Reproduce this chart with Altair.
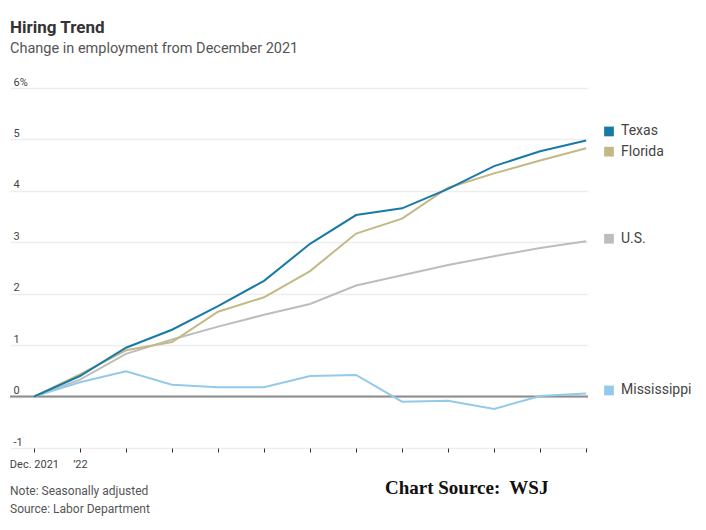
import json
import altair as alt
import pandas as pd

# ---- data ----
months = list(range(13))  # Dec 2021 .. Dec 2022
tick_labels = ["Dec. 2021", "\u201922", "", "", "", "", "", "", "", "", "", "", ""]
texas = [0, 0.40, 0.95, 1.30, 1.76, 2.25, 2.97, 3.53, 3.66, 4.04, 4.48, 4.77, 4.98]
florida = [0, 0.43, 0.90, 1.06, 1.65, 1.93, 2.44, 3.17, 3.46, 4.06, 4.34, 4.59, 4.83]
us = [0, 0.33, 0.83, 1.11, 1.36, 1.59, 1.80, 2.16, 2.36, 2.56, 2.73, 2.89, 3.02]
mississippi = [0, 0.28, 0.49, 0.23, 0.18, 0.18, 0.40, 0.42, -0.10, -0.08, -0.24, 0.01, 0.06]

series_names = ["Texas", "Florida", "U.S.", "Mississippi"]
series_values = [texas, florida, us, mississippi]
series_colors = ["#1a7aa6", "#c2b985", "#bdbdbd", "#94c9ea"]
label_nudge = [-9, 3.5, -2.5, -3]  # pixel nudges for end labels

y_ticks = [-1, 0, 1, 2, 3, 4, 5, 6]

rows = []
draw_order = ["U.S.", "Mississippi", "Florida", "Texas"]
for name in draw_order:
    vals = series_values[series_names.index(name)]
    for m, v in zip(months, vals):
        rows.append({"series": name, "month": m, "value": v})
df = pd.DataFrame(rows)

FONT = "Roboto"
x_scale = alt.Scale(domain=[-0.52, 12.04], nice=False, zero=False)
y_scale = alt.Scale(domain=[-1, 6], nice=False, zero=False)
color_scale = alt.Scale(domain=series_names, range=series_colors)

x_label_expr = json.dumps(tick_labels, ensure_ascii=False) + "[datum.value]"

y_axis = alt.Axis(
    values=y_ticks,
    labelExpr="datum.value == 6 ? '6%' : datum.value",
    domain=False,
    ticks=False,
    tickSize=0,
    grid=True,
    gridColor="#ededed",
    gridWidth=1.6,
    labelAlign="left",
    labelBaseline="alphabetic",
    labelPadding=-3,
    labelOffset=-3,
    labelFont=FONT,
    labelFontSize=11,
    labelColor="#444444",
    title=None,
)


def Y():
    return alt.Y("value:Q", scale=y_scale, axis=y_axis, title=None)


lines = alt.Chart(df).mark_line(strokeWidth=2).encode(
    x=alt.X(
        "month:Q",
        scale=x_scale,
        axis=alt.Axis(
            values=months,
            labelExpr=x_label_expr,
            domain=False,
            grid=False,
            ticks=True,
            tickSize=4,
            tickColor="#333333",
            tickWidth=1,
            labelPadding=6,
            labelFont=FONT,
            labelFontSize=11,
            labelColor="#444444",
            labelFlush=False,
            labelOverlap=False,
            title=None,
        ),
    ),
    y=Y(),
    color=alt.Color("series:N", scale=color_scale, legend=None),
    detail="series:N",
)

zero_rule = alt.Chart(pd.DataFrame({"value": [0]})).mark_rule(
    color="#8c8c8c", strokeWidth=2
).encode(y=Y())

layers = [zero_rule, lines]

for name, vals, col, nudge in zip(series_names, series_values, series_colors, label_nudge):
    end = pd.DataFrame({"series": [name], "value": [vals[-1]]})
    sq = alt.Chart(end).mark_square(size=95, color=col, opacity=1, yOffset=nudge).encode(
        x=alt.value(599), y=Y()
    )
    tx = alt.Chart(end).mark_text(
        align="left", baseline="middle", font=FONT, fontSize=14,
        color="#444444", yOffset=nudge
    ).encode(x=alt.value(611), y=Y(), text="series:N")
    layers += [sq, tx]

note_lines = ["Note: Seasonally adjusted", "Source: Labor Department"]
note_y = [403, 421]
for t, yy in zip(note_lines, note_y):
    layers.append(
        alt.Chart(pd.DataFrame({"t": [t]})).mark_text(
            align="left", baseline="middle", font=FONT, fontSize=12, color="#555555"
        ).encode(x=alt.value(0), y=alt.value(yy), text="t:N")
    )

src_text = alt.Chart(pd.DataFrame({"t": ["Chart Source:\u00a0 WSJ"]})).mark_text(
    align="left", baseline="middle", font="Liberation Serif", fontSize=19,
    fontWeight="bold", color="#111111"
).encode(x=alt.value(375), y=alt.value(400), text="t:N")
layers.append(src_text)

chart = alt.layer(*layers).properties(
    width=578,
    height=360,
    autosize=alt.AutoSizeParams(type="none"),
    padding={"left": 2, "top": 80, "right": 110, "bottom": 74},
    title=alt.TitleParams(
        "Hiring Trend",
        subtitle="Change in employment from December 2021",
        anchor="start",
        frame="group",
        font=FONT,
        fontSize=17,
        fontWeight="bold",
        color="#333333",
        subtitleFont=FONT,
        subtitleFontSize=14.5,
        subtitleColor="#555555",
        subtitlePadding=5,
        offset=20,
    ),
).configure_view(stroke=None)

chart.save("out.html", embed_options={"renderer": "svg", "actions": False})
